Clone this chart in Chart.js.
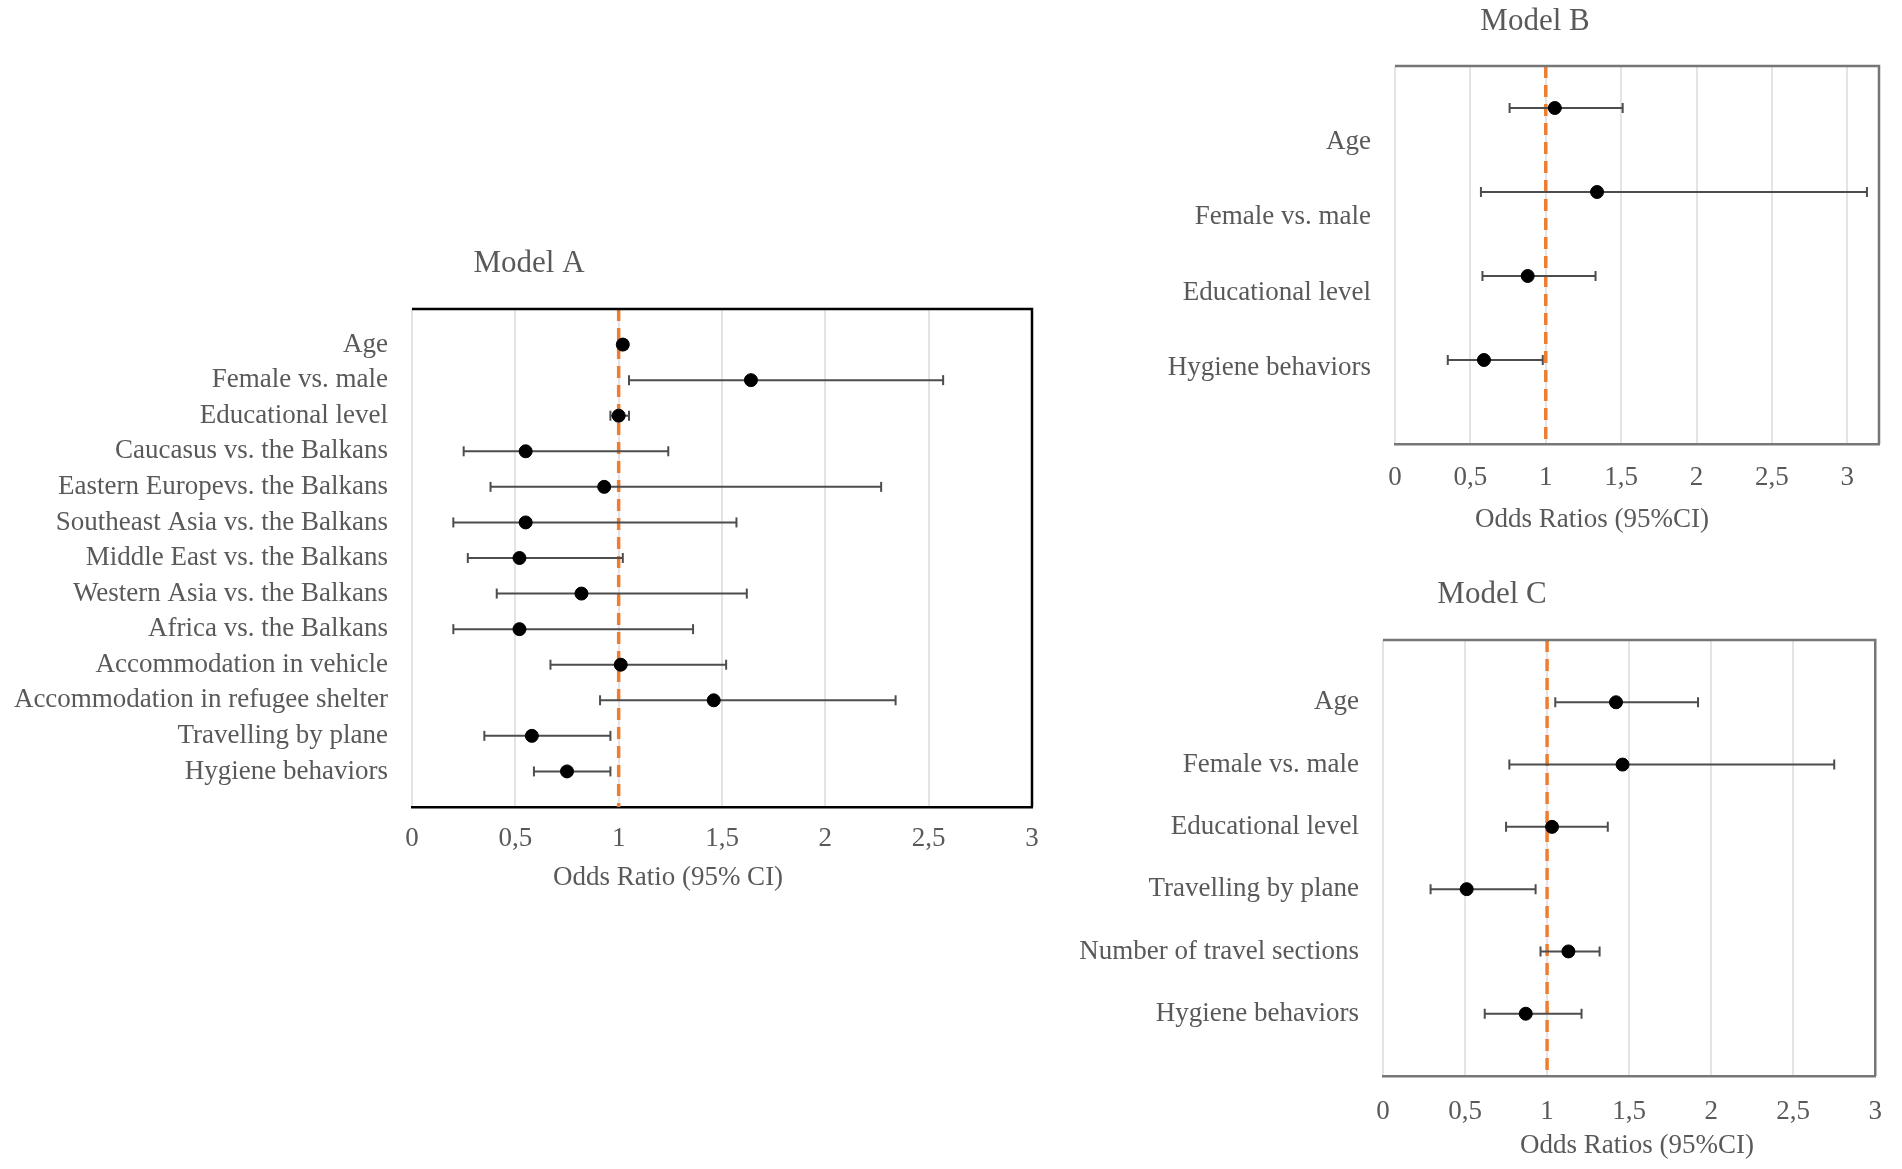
<!DOCTYPE html>
<html>
<head>
<meta charset="utf-8">
<script src="https://cdn.jsdelivr.net/npm/chart.js"></script>
<style>
  body { margin: 0; background: #fff; width: 1902px; height: 1169px; position: relative; overflow: hidden; }
  canvas { position: absolute; }
  #chartA { left: 0; top: 230px; }
  #chartB { left: 1100px; top: 0; }
  #chartC { left: 1050px; top: 570px; }
</style>
</head>
<body>
<canvas id="chartA" width="1060" height="680"></canvas>
<canvas id="chartB" width="802" height="560"></canvas>
<canvas id="chartC" width="852" height="599"></canvas>
<script>
//Model A
const labelsA = ['Age', 'Female vs. male', 'Educational level', 'Caucasus vs. the Balkans',
  'Eastern Europevs. the Balkans', 'Southeast Asia vs. the Balkans', 'Middle East vs. the Balkans',
  'Western Asia vs. the Balkans', 'Africa vs. the Balkans', 'Accommodation in vehicle',
  'Accommodation in refugee shelter', 'Travelling by plane', 'Hygiene behaviors'];
const orA = [1.02, 1.64, 1.00, 0.55, 0.93, 0.55, 0.52, 0.82, 0.52, 1.01, 1.46, 0.58, 0.75];
const lowA = [1.00, 1.05, 0.96, 0.25, 0.38, 0.20, 0.27, 0.41, 0.20, 0.67, 0.91, 0.35, 0.59];
const highA = [1.04, 2.57, 1.05, 1.24, 2.27, 1.57, 1.02, 1.62, 1.36, 1.52, 2.34, 0.96, 0.96];

//Model B
const labelsB = ['Age', 'Female vs. male', 'Educational level', 'Hygiene behaviors'];
const orB = [1.06, 1.34, 0.88, 0.59];
const lowB = [0.76, 0.57, 0.58, 0.35];
const highB = [1.51, 3.13, 1.33, 0.98];

//Model C
const labelsC = ['Age', 'Female vs. male', 'Educational level', 'Travelling by plane',
  'Number of travel sections', 'Hygiene behaviors'];
const orC = [1.42, 1.46, 1.03, 0.51, 1.13, 0.87];
const lowC = [1.05, 0.77, 0.75, 0.29, 0.96, 0.62];
const highC = [1.92, 2.75, 1.37, 0.93, 1.32, 1.21];

const xTicks = [0, 0.5, 1, 1.5, 2, 2.5, 3];
const refValue = 1;

const serif = '"Liberation Serif", "Times New Roman", serif';
const textGrey = '#595959';

const textPlugin = {
  id: 'texts',
  afterDraw(chart, args, opts) {
    const ctx = chart.ctx;
    ctx.save();
    ctx.fillStyle = textGrey;
    ctx.textAlign = 'center';
    ctx.textBaseline = 'middle';
    ctx.font = '31px ' + serif;
    ctx.fillText(opts.title, opts.titleX, opts.titleY);
    ctx.font = '27px ' + serif;
    ctx.fillText(opts.axisTitle, opts.axisX, opts.axisY);
    ctx.restore();
  }
};

const framePlugin = {
  id: 'frame',
  afterDatasetsDraw(chart, args, opts) {
    const a = chart.chartArea;
    const ctx = chart.ctx;
    ctx.save();
    ctx.strokeStyle = opts.color;
    ctx.lineWidth = opts.width;
    ctx.beginPath();
    ctx.moveTo(a.left, a.top);
    ctx.lineTo(a.right, a.top);
    ctx.lineTo(a.right, a.bottom);
    ctx.stroke();
    ctx.restore();
  }
};

function makeForest(id, p) {
  const datasets = [];
  datasets.push({
    data: p.or.map((v, i) => ({x: v, y: p.rows[i]})),
    yAxisID: 'yd', backgroundColor: '#000', borderColor: '#000', pointRadius: 6.5, order: 0
  });
  p.low.forEach((lo, i) => {
    datasets.push({
      data: [{x: lo, y: p.rows[i]}, {x: p.high[i], y: p.rows[i]}],
      yAxisID: 'yd', showLine: true, borderColor: '#4d4d4d', borderWidth: 2,
      pointStyle: 'line', rotation: 90, pointRadius: 5, pointBorderWidth: 2,
      pointBorderColor: '#4d4d4d', order: 1
    });
  });
  datasets.push({
    data: [{x: refValue, y: 0}, {x: refValue, y: p.yMax}],
    yAxisID: 'yd', showLine: true, borderColor: '#ED7D31', borderWidth: 3.5,
    borderDash: [12, 7], pointRadius: 0, order: 2
  });

  return new Chart(document.getElementById(id), {
    type: 'scatter',
    data: {datasets: datasets},
    plugins: [textPlugin, framePlugin],
    options: {
      responsive: false,
      animation: false,
      devicePixelRatio: 1,
      events: [],
      layout: {padding: {top: p.top, right: p.right, bottom: 0, left: 0}},
      plugins: {
        legend: {display: false},
        tooltip: {enabled: false},
        texts: p.texts,
        frame: {color: p.frameColor, width: 2.5}
      },
      scales: {
        x: {
          type: 'linear', min: 0, max: p.xMax,
          afterBuildTicks: s => { s.ticks = xTicks.map(v => ({value: v})); },
          afterFit: s => { s.height = p.xAxisH; },
          grid: {color: '#e4e4e4', lineWidth: 2, drawTicks: false},
          border: {color: p.frameColor, width: 2.5},
          ticks: {
            padding: p.tickPad, color: textGrey, font: {family: serif, size: 27},
            maxRotation: 0, autoSkip: false,
            callback: v => String(v).replace('.', ',')
          }
        },
        y: {
          type: 'linear', min: 0, max: p.labelMax, reverse: true,
          afterBuildTicks: s => { s.ticks = p.labels.map((_, i) => ({value: i + 1})); },
          afterFit: s => { s.width = p.yAxisW; },
          grid: {display: false},
          border: {display: false},
          ticks: {
            autoSkip: false, padding: 16, color: textGrey, font: {family: serif, size: 27},
            callback: (v, i) => p.labels[i]
          }
        },
        yd: {type: 'linear', display: false, min: 0, max: p.yMax, reverse: true}
      }
    }
  });
}

chartA = makeForest('chartA', {
  labels: labelsA, or: orA, low: lowA, high: highA,
  rows: labelsA.map((_, i) => i + 1), yMax: 14, labelMax: 14, xMax: 3,
  top: 79, right: 28, yAxisW: 412, xAxisH: 103, tickPad: 16, frameColor: '#000',
  texts: {title: 'Model A', titleX: 529, titleY: 34, axisTitle: 'Odds Ratio (95% CI)', axisX: 668, axisY: 648}
});

chartB = makeForest('chartB', {
  labels: labelsB, or: orB, low: lowB, high: highB,
  rows: labelsB.map((_, i) => i + 0.5), yMax: 4.5, labelMax: 5, xMax: 3.21,
  top: 66, right: 23, yAxisW: 295, xAxisH: 116, tickPad: 18, frameColor: '#767676',
  texts: {title: 'Model B', titleX: 435, titleY: 22, axisTitle: 'Odds Ratios (95%CI)', axisX: 492, axisY: 520}
});

chartC = makeForest('chartC', {
  labels: labelsC, or: orC, low: lowC, high: highC,
  rows: labelsC.map((_, i) => i + 1), yMax: 7, labelMax: 7, xMax: 3,
  top: 70, right: 14, yAxisW: 333, xAxisH: 93, tickPad: 20, frameColor: '#767676',
  texts: {title: 'Model C', titleX: 442, titleY: 25, axisTitle: 'Odds Ratios (95%CI)', axisX: 587, axisY: 576}
});
</script>
</body>
</html>
